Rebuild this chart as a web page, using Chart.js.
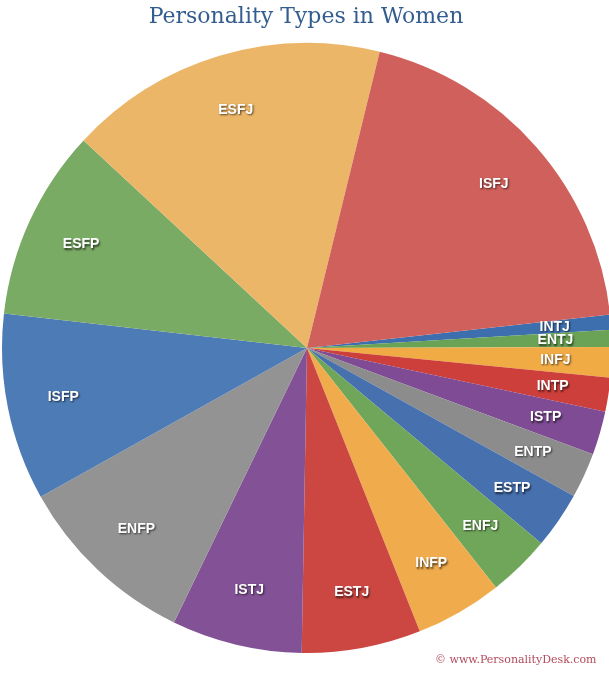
<!DOCTYPE html>
<html>
<head>
<meta charset="utf-8">
<script src="https://cdn.jsdelivr.net/npm/chart.js@4"></script>
<style>
    html, body { margin: 0; padding: 0; background: #fff; overflow: hidden; }
    #wrap { position: relative; width: 609px; height: 680px; overflow: hidden; }
    #box { position: absolute; left: 0; top: 0; width: 640px; height: 680px; }
    #title {
        position: absolute; left: 0; top: 3px; width: 612px; text-align: center;
        font-family: "DejaVu Serif", serif; font-size: 22px; line-height: 26px; color: #345d8f;
    }
    #credit {
        position: absolute; left: 435px; top: 653px;
        font-family: "DejaVu Serif", serif; font-size: 11px; color: #b04a5a;
    }
</style>
</head>
<body>
<div id="wrap">
    <div id="box"><canvas id="pie"></canvas></div>
    <div id="title">Personality Types in Women</div>
    <div id="credit">© www.PersonalityDesk.com</div>
</div>
<script>
const types = ["INTJ", "ENTJ", "INFJ", "INTP", "ISTP", "ENTP", "ESTP", "ENFJ",
               "INFP", "ESTJ", "ISTJ", "ENFP", "ISFP", "ESFP", "ESFJ", "ISFJ"];
const percents = [0.8, 0.9, 1.6, 1.8, 2.3, 2.4, 3.0, 3.3,
                  4.6, 6.3, 6.9, 9.7, 9.9, 10.1, 16.9, 19.4];
const sliceColors = ["#3d6fae", "#6aa355", "#f0ab45", "#cc3f3b", "#7e4b94", "#8c8c8c", "#4670ae", "#6fa65a",
                     "#f0ab4c", "#cd4742", "#835196", "#939393", "#4d7bb5", "#7aab65", "#ecb668", "#d0605b"];

// white bold names with a dark drop shadow, placed inside each slice
const sliceLabels = {
    id: "sliceLabels",
    afterDatasetsDraw(chart) {
        const ctx = chart.ctx;
        const arcs = chart.getDatasetMeta(0).data;
        ctx.save();
        ctx.font = "bold 14px 'Liberation Sans', Arial, sans-serif";
        ctx.textAlign = "center";
        ctx.textBaseline = "middle";
        ctx.fillStyle = "#ffffff";
        ctx.shadowColor = "rgba(0,0,0,0.65)";
        ctx.shadowOffsetX = 1;
        ctx.shadowOffsetY = 1.5;
        ctx.shadowBlur = 2;
        arcs.forEach((arc, i) => {
            const p = arc.getProps(["x", "y", "startAngle", "endAngle", "outerRadius"], true);
            const mid = (p.startAngle + p.endAngle) / 2;
            const r = p.outerRadius * 0.815;
            ctx.fillText(types[i], p.x + Math.cos(mid) * r, p.y + Math.sin(mid) * r);
        });
        ctx.restore();
    }
};

new Chart(document.getElementById("pie"), {
    type: "pie",
    data: {
        labels: types,
        datasets: [{
            data: percents,
            backgroundColor: sliceColors,
            borderWidth: 0
        }]
    },
    options: {
        responsive: true,
        maintainAspectRatio: false,
        animation: false,
        rotation: 83.7,
        layout: { padding: { left: 2, top: 43, right: 28, bottom: 27 } },
        plugins: {
            legend: { display: false },
            tooltip: { enabled: false }
        }
    },
    plugins: [sliceLabels]
});
</script>
</body>
</html>
